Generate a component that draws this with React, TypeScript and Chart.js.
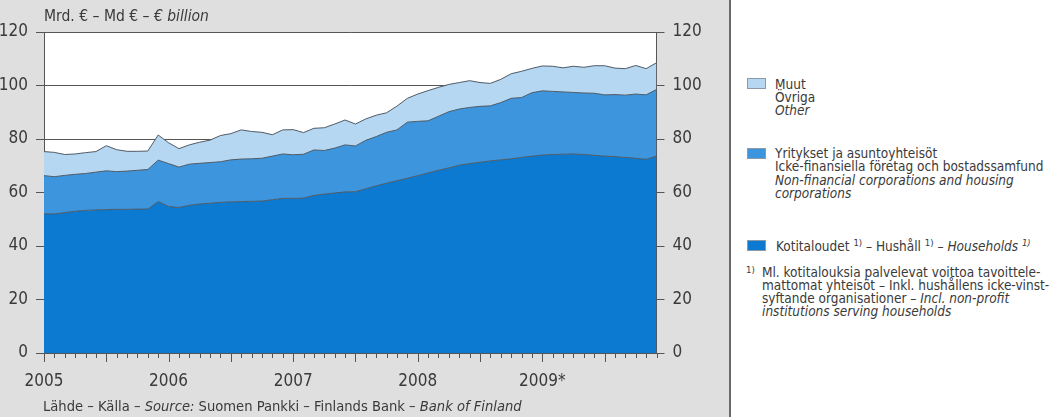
import React, { useEffect, useRef } from "react";
import { Chart, registerables } from "chart.js";

Chart.register(...registerables);

// ---- Data (EUR billion, monthly Jan 2005 – Dec 2009) ----
const years = ["2005", "2006", "2007", "2008", "2009*"];
const monthNames = ["01", "02", "03", "04", "05", "06", "07", "08", "09", "10", "11", "12"];
const categories = years.flatMap((y) => monthNames.map((m) => `${y.replace("*", "")}-${m}`));

const households = [
  52.0, 52.0, 52.5, 53.0, 53.3, 53.5, 53.6, 53.7, 53.7, 53.8, 53.8, 56.6,
  54.8, 54.4, 55.2, 55.7, 56.0, 56.3, 56.5, 56.6, 56.7, 56.8, 57.3, 57.8,
  57.8, 57.9, 58.9, 59.4, 59.8, 60.2, 60.3, 61.4, 62.5, 63.5, 64.4, 65.3,
  66.3, 67.3, 68.3, 69.2, 70.2, 70.8, 71.3, 71.8, 72.2, 72.6, 73.1, 73.6,
  74.0, 74.2, 74.3, 74.4, 74.2, 73.9, 73.6, 73.4, 73.1, 72.8, 72.4, 73.6,
];
const corporations = [
  14.3, 13.9, 13.9, 13.8, 13.8, 14.1, 14.5, 14.1, 14.3, 14.5, 14.8, 15.5,
  16.0, 15.1, 15.4, 15.2, 15.2, 15.2, 15.7, 15.9, 15.9, 16.0, 16.3, 16.6,
  16.3, 16.4, 17.0, 16.3, 16.8, 17.6, 17.1, 18.1, 18.4, 19.0, 19.0, 21.0,
  20.3, 19.5, 20.2, 21.0, 21.0, 21.0, 20.9, 20.6, 21.4, 22.6, 22.4, 23.7,
  24.0, 23.6, 23.3, 23.0, 23.0, 23.2, 22.9, 23.2, 23.3, 24.0, 24.1, 24.9,
];
const other = [
  9.0, 9.1, 7.8, 7.6, 7.8, 7.7, 9.4, 8.2, 7.4, 7.1, 6.9, 9.4,
  7.8, 6.9, 7.2, 7.9, 8.4, 9.8, 9.8, 10.9, 10.2, 9.7, 8.0, 9.0,
  9.4, 8.1, 8.1, 8.5, 9.0, 9.3, 8.2, 8.0, 8.0, 7.3, 8.9, 8.9,
  10.2, 11.3, 10.8, 10.2, 9.9, 10.0, 8.9, 8.4, 8.7, 9.2, 9.8, 9.1,
  9.3, 9.4, 9.0, 9.8, 9.6, 10.3, 10.9, 9.9, 9.9, 10.7, 9.8, 10.0,
];
const yMin = 0;
const yMax = 120;
const yStep = 20;

// ---- Styles ----
const FONT = '"DejaVu Sans Condensed", "Liberation Sans Narrow", "Liberation Sans", sans-serif';
const TEXT = "#3a3a3a";
const AXIS = "#555555";
const C_HOUSE = "#0b7ad0";
const C_CORP = "#3d95dd";
const C_OTHER = "#b5d7f2";
const C_EDGE = "#4f5b66";

const chartAreaBg = {
  id: "chartAreaBg",
  beforeDraw(chart: any) {
    const { ctx, chartArea } = chart;
    ctx.save();
    ctx.fillStyle = "#ffffff";
    ctx.fillRect(chartArea.left, chartArea.top, chartArea.right - chartArea.left, chartArea.bottom - chartArea.top);
    ctx.restore();
  },
};

const monthTicks = {
  id: "monthTicks",
  afterDraw(chart: any) {
    const { ctx } = chart;
    const xs = chart.scales.x;
    const bottom = chart.chartArea.bottom;
    ctx.save();
    ctx.strokeStyle = AXIS;
    ctx.lineWidth = 1;
    for (let i = 0; i < xs.ticks.length; i++) {
      const x = Math.round(xs.getPixelForTick(i)) + 0.5;
      const len = i % 6 === 0 ? 9 : 5;
      ctx.beginPath();
      ctx.moveTo(x, bottom);
      ctx.lineTo(x, bottom + len);
      ctx.stroke();
    }
    ctx.restore();
  },
};

function AreaChart() {
  const ref = useRef<HTMLCanvasElement | null>(null);
  useEffect(() => {
    if (!ref.current) return;
    const tickFont = { family: FONT, size: 17 };
    const chart = new Chart(ref.current, {
      type: "line",
      data: {
        labels: categories,
        datasets: [
          { label: "Kotitaloudet", data: households, backgroundColor: C_HOUSE, borderColor: C_EDGE, fill: "origin" },
          { label: "Yritykset ja asuntoyhteisöt", data: corporations, backgroundColor: C_CORP, borderColor: C_EDGE, fill: "-1" },
          { label: "Muut", data: other, backgroundColor: C_OTHER, borderColor: C_EDGE, fill: "-1" },
        ],
      },
      options: {
        animation: false,
        responsive: false,
        maintainAspectRatio: false,
        layout: { padding: { left: 0, right: 13.5, top: 32, bottom: 24 } },
        plugins: { legend: { display: false }, tooltip: { enabled: false } },
        elements: { point: { radius: 0 }, line: { tension: 0, borderWidth: 1 } },
        scales: {
          x: {
            type: "category",
            offset: false,
            grid: { display: false, drawTicks: false },
            border: { display: true, color: AXIS, width: 1 },
            ticks: {
              autoSkip: false,
              maxRotation: 0,
              padding: 18,
              font: tickFont,
              color: TEXT,
              callback: (_v: any, i: number) => (i % 12 === 0 ? years[i / 12] : ""),
            },
            afterFit: (s: any) => {
              s.height = 40;
            },
          },
          y: {
            position: "left",
            stacked: true,
            min: yMin,
            max: yMax,
            ticks: { stepSize: yStep, padding: 8, font: tickFont, color: TEXT },
            grid: { color: AXIS, lineWidth: 1, tickLength: 8, drawOnChartArea: true },
            border: { display: true, color: AXIS, width: 1 },
            afterFit: (s: any) => {
              s.width = 44;
            },
          },
          y2: {
            position: "right",
            min: yMin,
            max: yMax,
            ticks: { stepSize: yStep, padding: 8, font: tickFont, color: TEXT },
            grid: { color: AXIS, lineWidth: 1, tickLength: 8, drawOnChartArea: false },
            border: { display: true, color: AXIS, width: 1 },
            afterFit: (s: any) => {
              s.width = 60;
            },
          },
        },
      } as any,
      plugins: [chartAreaBg, monthTicks],
    });
    return () => chart.destroy();
  }, []);
  return <canvas ref={ref} width={730} height={417} style={{ position: "absolute", left: 0, top: 0, width: 730, height: 417 }} />;
}

const legendText: React.CSSProperties = {
  position: "absolute",
  fontFamily: FONT,
  fontSize: 13.5,
  lineHeight: "14px",
  color: TEXT,
  whiteSpace: "nowrap",
};

function Line({ x, y, children }: { x: number; y: number; children: React.ReactNode }) {
  return <div style={{ ...legendText, left: x, top: y - 7 }}>{children}</div>;
}

function Swatch({ y, color }: { y: number; color: string }) {
  return (
    <div
      style={{
        position: "absolute",
        left: 747,
        top: y - 6,
        width: 19,
        height: 11,
        background: color,
        border: "1px solid #8a9aa8",
        boxSizing: "border-box",
      }}
    />
  );
}

const sup: React.CSSProperties = { fontSize: 9.5, verticalAlign: "5px", lineHeight: 0 };

export default function App() {
  return (
    <div style={{ position: "absolute", left: 0, top: 0, width: 1063, height: 417, background: "#ffffff", overflow: "hidden" }}>
      <div style={{ position: "absolute", left: 0, top: 0, width: 730, height: 417, background: "#dfdfdf" }} />
      <div style={{ position: "absolute", left: 729, top: 0, width: 2, height: 417, background: "#6a6a6a" }} />
      <AreaChart />
      <div style={{ position: "absolute", left: 44, top: 6, fontFamily: FONT, fontSize: 15.5, lineHeight: "20px", color: TEXT, whiteSpace: "nowrap" }}>
        Mrd. € – Md € – <i>€ billion</i>
      </div>
      <div style={{ position: "absolute", left: 43, top: 396, fontFamily: FONT, fontSize: 14.6, lineHeight: "20px", color: TEXT, whiteSpace: "nowrap" }}>
        Lähde – Källa – <i>Source:</i> Suomen Pankki – Finlands Bank – <i>Bank of Finland</i>
      </div>

      <Swatch y={84} color={C_OTHER} />
      <Line x={775} y={84}>Muut</Line>
      <Line x={775} y={97}>Övriga</Line>
      <Line x={775} y={110}><i>Other</i></Line>

      <Swatch y={154} color={C_CORP} />
      <Line x={775} y={153}>Yritykset ja asuntoyhteisöt</Line>
      <Line x={775} y={166}>Icke-finansiella företag och bostadssamfund</Line>
      <Line x={775} y={180}><i>Non-financial corporations and housing</i></Line>
      <Line x={775} y={193}><i>corporations</i></Line>

      <Swatch y={246} color={C_HOUSE} />
      <Line x={776} y={246}>
        Kotitaloudet <sup style={sup}>1)</sup> – Hushåll <sup style={sup}>1)</sup> – <i>Households</i> <sup style={sup}><i>1)</i></sup>
      </Line>

      <Line x={746} y={268}><span style={{ fontSize: 9.5 }}>1)</span></Line>
      <Line x={762} y={272}>Ml. kotitalouksia palvelevat voittoa tavoittele-</Line>
      <Line x={762} y={285}>mattomat yhteisöt – Inkl. hushållens icke-vinst-</Line>
      <Line x={762} y={298}>syftande organisationer – <i>Incl. non-profit</i></Line>
      <Line x={762} y={311}><i>institutions serving households</i></Line>
    </div>
  );
}
